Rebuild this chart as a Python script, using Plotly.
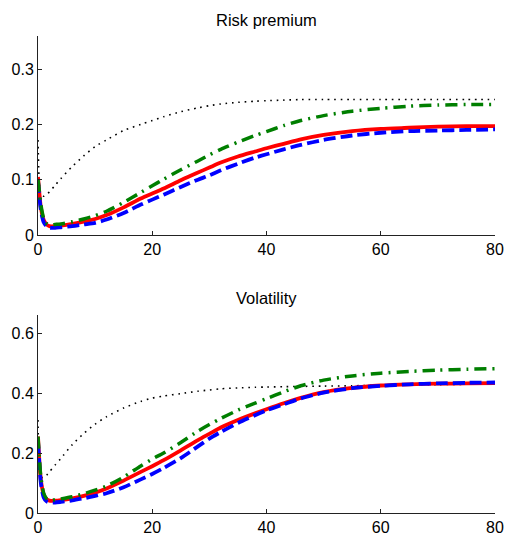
import plotly.graph_objects as go

# Horizon (periods after the shock)
t = [0, 0.25, 0.5, 1, 1.5, 2, 3, 4, 6, 8, 10, 12, 15, 18, 20, 22, 25, 28, 30,
     32, 35, 38, 40, 43, 46, 50, 55, 60, 65, 70, 75, 80]

# Risk premium responses
rp_dotted = [0.172, 0.090, 0.072, 0.070, 0.073, 0.078, 0.090, 0.102, 0.124, 0.143,
             0.160, 0.172, 0.189, 0.200, 0.207, 0.214, 0.223, 0.230, 0.234,
             0.237, 0.240, 0.242, 0.243, 0.244, 0.245, 0.245, 0.245, 0.245,
             0.245, 0.245, 0.245, 0.245]
rp_solid = [0.105, 0.075, 0.050, 0.027, 0.019, 0.016, 0.016, 0.017, 0.020, 0.024,
            0.029, 0.036, 0.050, 0.066, 0.075, 0.084, 0.099, 0.113, 0.122,
            0.131, 0.142, 0.151, 0.157, 0.165, 0.173, 0.181, 0.188, 0.192,
            0.194, 0.196, 0.197, 0.197]
rp_dashed = [0.098, 0.068, 0.045, 0.023, 0.016, 0.013, 0.013, 0.014, 0.016, 0.019,
             0.022, 0.028, 0.040, 0.055, 0.064, 0.073, 0.087, 0.100, 0.108,
             0.117, 0.129, 0.140, 0.146, 0.155, 0.163, 0.172, 0.180, 0.185,
             0.188, 0.189, 0.190, 0.191]
rp_dashdot = [0.100, 0.078, 0.055, 0.030, 0.021, 0.018, 0.019, 0.020, 0.024, 0.029,
              0.035, 0.043, 0.059, 0.077, 0.089, 0.101, 0.118, 0.134, 0.145,
              0.155, 0.168, 0.180, 0.187, 0.198, 0.207, 0.216, 0.224, 0.229,
              0.233, 0.235, 0.236, 0.236]

# Volatility responses
vol_dotted = [0.310, 0.140, 0.120, 0.118, 0.126, 0.137, 0.160, 0.182, 0.228, 0.265,
              0.296, 0.321, 0.350, 0.372, 0.383, 0.390, 0.398, 0.406, 0.410,
              0.414, 0.417, 0.419, 0.420, 0.421, 0.422, 0.423, 0.424, 0.426,
              0.427, 0.428, 0.429, 0.430]
vol_solid = [0.255, 0.170, 0.110, 0.062, 0.046, 0.041, 0.041, 0.043, 0.049, 0.057,
             0.068, 0.082, 0.108, 0.137, 0.156, 0.176, 0.209, 0.243, 0.264,
             0.285, 0.310, 0.332, 0.346, 0.366, 0.384, 0.403, 0.417, 0.425,
             0.429, 0.431, 0.432, 0.433]
vol_dashed = [0.240, 0.160, 0.100, 0.052, 0.039, 0.035, 0.035, 0.037, 0.042, 0.049,
              0.057, 0.066, 0.086, 0.112, 0.130, 0.150, 0.183, 0.222, 0.248,
              0.270, 0.300, 0.326, 0.342, 0.362, 0.382, 0.401, 0.416, 0.424,
              0.429, 0.432, 0.434, 0.435]
vol_dashdot = [0.255, 0.180, 0.120, 0.066, 0.048, 0.042, 0.044, 0.047, 0.054, 0.064,
               0.076, 0.090, 0.120, 0.157, 0.180, 0.200, 0.235, 0.273, 0.295,
               0.315, 0.343, 0.366, 0.381, 0.404, 0.424, 0.443, 0.457, 0.466,
               0.472, 0.476, 0.479, 0.481]

x_ticks = [0, 20, 40, 60, 80]
rp_ticks = [0, 0.1, 0.2, 0.3]
rp_ticktext = ["0", "0.1", "0.2", "0.3"]
vol_ticks = [0, 0.2, 0.4, 0.6]
vol_ticktext = ["0", "0.2", "0.4", "0.6"]
titles = ["Risk premium", "Volatility"]

W, H = 508, 537
FONT = "Liberation Sans, Arial, Helvetica, sans-serif"

styles = [
    dict(color="black", width=1.6, dash="1.6px,4.8px"),
    dict(color="#ff0000", width=3.8, dash="solid"),
    dict(color="#0000ff", width=3.8, dash="12px,5px"),
    dict(color="#007f00", width=3.5, dash="12px,6px,2px,6px"),
]

fig = go.Figure()
panels = [
    ("x", "y", [rp_dotted, rp_solid, rp_dashed, rp_dashdot]),
    ("x2", "y2", [vol_dotted, vol_solid, vol_dashed, vol_dashdot]),
]
for xa, ya, series in panels:
    for vals, st in zip(series, styles):
        fig.add_trace(go.Scatter(x=t, y=vals, mode="lines", line=st,
                                 line_shape="spline", line_smoothing=0.7,
                                 xaxis=xa, yaxis=ya, showlegend=False,
                                 hoverinfo="skip"))

x_dom = [38 / W, 495 / W]
top_dom = [1 - 235 / H, 1 - 36 / H]
bot_dom = [1 - 513 / H, 1 - 315 / H]

axis_common = dict(showline=True, linecolor="#222", linewidth=1, showgrid=False,
                   zeroline=False, ticks="inside", ticklen=4, tickcolor="#222",
                   tickfont=dict(family=FONT, size=16, color="black"),
                   automargin=False, fixedrange=True)

title_font = dict(family=FONT, size=16.5, color="black")

fig.update_layout(
    width=W, height=H,
    margin=dict(l=0, r=0, t=0, b=0),
    paper_bgcolor="white", plot_bgcolor="white",
    xaxis=dict(domain=x_dom, anchor="y", range=[0, 80], tickvals=x_ticks,
               **axis_common),
    yaxis=dict(domain=top_dom, anchor="x", range=[0, 0.36], tickvals=rp_ticks,
               ticktext=rp_ticktext, **axis_common),
    xaxis2=dict(domain=x_dom, anchor="y2", range=[0, 80], tickvals=x_ticks,
                **axis_common),
    yaxis2=dict(domain=bot_dom, anchor="x2", range=[0, 0.66], tickvals=vol_ticks,
                ticktext=vol_ticktext, **axis_common),
    annotations=[
        dict(text=titles[0], x=266 / W, y=1 - 20 / H, xref="paper", yref="paper",
             xanchor="center", yanchor="middle", showarrow=False, font=title_font),
        dict(text=titles[1], x=266 / W, y=1 - 298 / H, xref="paper", yref="paper",
             xanchor="center", yanchor="middle", showarrow=False, font=title_font),
    ],
)

fig.write_html("out.html")
